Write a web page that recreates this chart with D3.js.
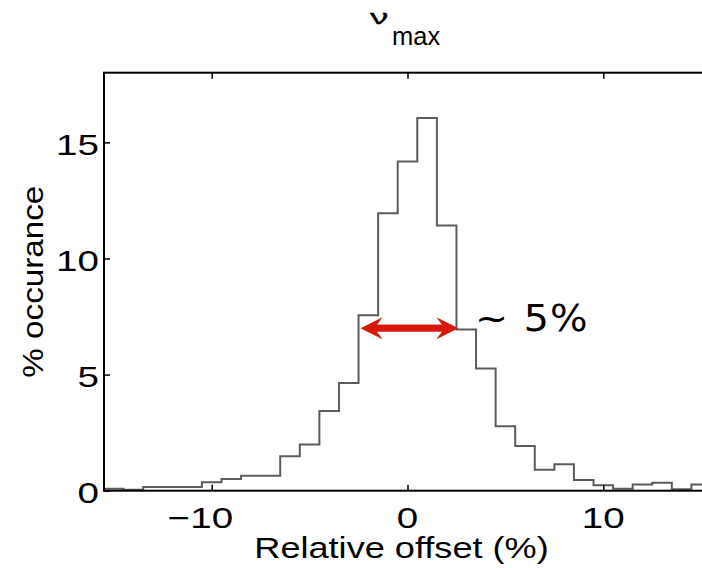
<!DOCTYPE html>
<html><head><meta charset="utf-8">
<script src="https://cdn.jsdelivr.net/npm/d3@7"></script>
<style>html,body{margin:0;padding:0;background:#fff;overflow:hidden}</style>
</head><body><svg id="c" width="702" height="568"></svg>
<script>
// ---- data ----
const binCenters = [-15,-14,-13,-12,-11,-10,-9,-8,-7,-6,-5,-4,-3,-2,-1,0,1,2,3,4,5,6,7,8,9,10,11,12,13,14,15];
const occurrence = [0.08,0.04,0.16,0.16,0.16,0.36,0.50,0.64,0.64,1.48,1.99,3.43,4.64,7.55,11.95,14.18,16.05,11.42,6.94,5.26,2.78,1.93,0.90,1.14,0.46,0.24,0.08,0.27,0.34,0.06,0.27];
const binWidth = 1;
const xTicks = [-10, 0, 10];
const yTicks = [0, 5, 10, 15];
const xDomain = [-15.5, 15.5];
const yDomain = [0, 18];
const titleMain = "ν", titleSub = "max";
const xLabel = "Relative offset (%)";
const yLabel = "% occurance";
const spanFrom = -2.4, spanTo = 2.6, spanLevel = 7.0;
const spanText = "~ 5%";

// ---- layout ----
const svg = d3.select("#c");
svg.append("rect").attr("width",702).attr("height",568).attr("fill","#fff");
const m = {left:104, top:72.7, right:711, bottom:490.7};
const x = d3.scaleLinear().domain(xDomain).range([m.left, m.right]);
const y = d3.scaleLinear().domain(yDomain).range([m.bottom, m.top]);
const FONT = "'Liberation Sans', Arial, Helvetica, sans-serif";

// histogram stairs
const pts = binCenters.map((c,i)=>[c-binWidth/2, occurrence[i]]);
pts.push([binCenters[binCenters.length-1]+binWidth/2, occurrence[occurrence.length-1]]);
svg.append("path")
  .attr("d", d3.line().x(d=>x(d[0])).y(d=>y(d[1])).curve(d3.curveStepAfter)(pts))
  .attr("fill","none").attr("stroke","#5c5c5c").attr("stroke-width",2);

// axes ticks (inward)
const tickLen = 6;
const styleTicks = g=>{g.select(".domain").remove(); g.selectAll("line").attr("stroke","#000").attr("stroke-width",1.5);};
svg.append("g").attr("transform",`translate(0,${m.bottom})`)
  .call(d3.axisBottom(x).tickValues(xTicks).tickSizeInner(-tickLen).tickSizeOuter(0).tickFormat("")).call(styleTicks);
svg.append("g").attr("transform",`translate(0,${m.top})`)
  .call(d3.axisTop(x).tickValues(xTicks).tickSizeInner(-tickLen).tickSizeOuter(0).tickFormat("")).call(styleTicks);
svg.append("g").attr("transform",`translate(${m.left},0)`)
  .call(d3.axisLeft(y).tickValues(yTicks).tickSizeInner(-tickLen).tickSizeOuter(0).tickFormat("")).call(styleTicks);
svg.append("g").attr("transform",`translate(${m.right},0)`)
  .call(d3.axisRight(y).tickValues(yTicks).tickSizeInner(-tickLen).tickSizeOuter(0).tickFormat("")).call(styleTicks);

svg.append("rect").attr("x",m.left).attr("y",m.top)
  .attr("width",m.right-m.left).attr("height",m.bottom-m.top)
  .attr("fill","none").attr("stroke","#000").attr("stroke-width",2);

// tick labels
const tickScale = 1.33, tickFs = 29;
yTicks.forEach(t=>{
  svg.append("g").attr("transform",`translate(99,${y(t)+12.5}) scale(${tickScale},1)`)
    .append("text").attr("text-anchor","end").attr("font-family",FONT).attr("font-size",tickFs)
    .attr("fill","#000").text(d3.format("d")(t));
});
xTicks.forEach(t=>{
  const g = svg.append("g").attr("transform",`translate(${x(t)},528) scale(${tickScale},1)`);
  const num = g.append("text").attr("text-anchor","middle").attr("font-family",FONT).attr("font-size",tickFs)
    .attr("fill","#000").text(String(Math.abs(t)));
  if (t < 0) {
    const w = num.node().getComputedTextLength();
    g.append("text").attr("text-anchor","end").attr("x",-w/2).attr("font-family",FONT).attr("font-size",tickFs)
      .attr("fill","#000").text("\u2212");
  }
});

// axis labels
svg.append("g").attr("transform",`translate(${x(0)-6},558) scale(1.25,1)`)
  .append("text").attr("text-anchor","middle").attr("font-family",FONT).attr("font-size",28.9)
  .attr("fill","#000").text(xLabel);
svg.append("g").attr("transform",`translate(43,${(m.top+m.bottom)/2}) rotate(-90) scale(1.15,1)`)
  .append("text").attr("text-anchor","middle").attr("font-family",FONT).attr("font-size",28.9)
  .attr("fill","#000").text(yLabel);

// title
svg.append("g").attr("transform","translate(370,24) scale(1.75,1)")
  .append("text").attr("font-family",FONT).attr("font-size",21).attr("fill","#000")
  .attr("stroke","#000").attr("stroke-width",0.3).text(titleMain);
svg.append("text").attr("x",392).attr("y",45).attr("font-family",FONT).attr("font-size",25.5)
  .attr("fill","#000").text(titleSub);

// width annotation (double arrow)
const red = "#d9180c";
const x1 = x(spanFrom), x2 = x(spanTo), cy = y(spanLevel);
const headLen = 22, notch = 14, headHalf = 11, shaftHalf = 3.6;
svg.append("rect").attr("x",x1+notch).attr("y",cy-shaftHalf)
  .attr("width",(x2-notch)-(x1+notch)).attr("height",shaftHalf*2).attr("fill",red);
svg.append("path").attr("fill",red)
  .attr("d",`M${x1},${cy} L${x1+headLen},${cy-headHalf} L${x1+notch},${cy} L${x1+headLen},${cy+headHalf} Z`);
svg.append("path").attr("fill",red)
  .attr("d",`M${x2},${cy} L${x2-headLen},${cy-headHalf} L${x2-notch},${cy} L${x2-headLen},${cy+headHalf} Z`);
svg.append("g").attr("transform","translate(475,331) scale(1.04,1)")
  .append("text").attr("font-family","'DejaVu Sans', sans-serif").attr("word-spacing",1)
  .attr("letter-spacing",1).attr("font-size",38).attr("fill","#000").text(spanText);
</script></body></html>
